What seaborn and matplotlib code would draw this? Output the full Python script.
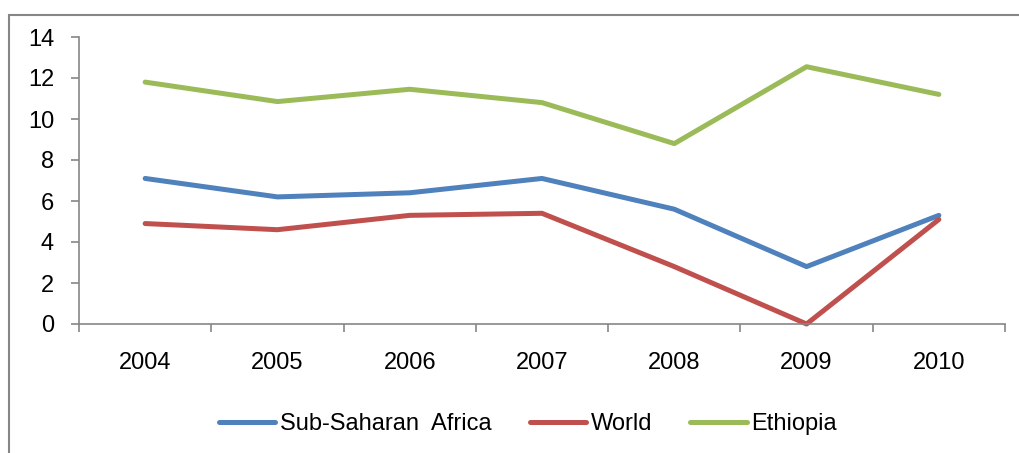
import matplotlib
matplotlib.use("Agg")
import matplotlib.pyplot as plt
import seaborn as sns
import pandas as pd
from matplotlib.patches import Rectangle

years = ["2004", "2005", "2006", "2007", "2008", "2009", "2010"]
ssa = [7.1, 6.2, 6.4, 7.1, 5.6, 2.8, 5.3]
world = [4.9, 4.6, 5.3, 5.4, 2.8, 0.0, 5.1]
ethiopia = [11.8, 10.85, 11.45, 10.8, 8.8, 12.55, 11.2]
series_names = ["Sub-Saharan  Africa", "World", "Ethiopia"]
colors = ["#4F81BD", "#C0504D", "#9BBB59"]

df = pd.DataFrame({
    "year": years * 3,
    "x": list(range(len(years))) * 3,
    "value": ssa + world + ethiopia,
    "series": [series_names[0]] * 7 + [series_names[1]] * 7 + [series_names[2]] * 7,
})

sns.set_theme(style="white")
plt.rcParams['font.family'] = ['Liberation Sans', 'DejaVu Sans']
plt.rcParams['text.color'] = 'black'

fig = plt.figure(figsize=(10.19, 4.53), dpi=100)
ax = fig.add_axes([79/1019, 1-324/453, (1005-79)/1019, (324-37)/453])

sns.lineplot(data=df, x="x", y="value", hue="series", palette=colors,
             hue_order=series_names, linewidth=3.6, ax=ax, legend=True,
             solid_capstyle="round", solid_joinstyle="round")
for ln in ax.get_lines():
    ln.set_clip_on(False)

ax.set_xlim(-0.5, 6.5)
ax.set_ylim(0, 14)
ax.set_yticks(range(0, 15, 2))
ax.set_xticks([i - 0.5 for i in range(8)])
ax.set_xticklabels([])
ax.set_xticks(range(7), minor=True)
ax.set_xticklabels(years, minor=True)
ax.tick_params(axis="x", which="minor", bottom=True, length=0, pad=20, labelsize=17, labelcolor="black")
ax.tick_params(axis="x", which="major", bottom=True, length=6, width=1.2, color="#868686", direction="out")
ax.tick_params(axis="y", left=True, length=6, width=1.2, color="#868686", direction="out", pad=12,
               labelsize=17, labelcolor="black")
ax.set_xlabel("")
ax.set_ylabel("")
for side in ["top", "right"]:
    ax.spines[side].set_visible(False)
for side in ["left", "bottom"]:
    ax.spines[side].set_color("#868686")
    ax.spines[side].set_linewidth(1.2)

handles, labels = ax.get_legend_handles_labels()
leg = ax.legend(handles, labels, loc="center", bbox_to_anchor=(528/1019, 1-424/453),
                bbox_transform=fig.transFigure, ncol=3, frameon=False, fontsize=17,
                handlelength=2.4, handletextpad=0.2, columnspacing=1.6)
for t in leg.get_texts():
    t.set_color("black")

fig.patches.append(Rectangle((9/1019, -0.1), 1.2, 1-15/453 + 0.1, transform=fig.transFigure,
                             fill=False, edgecolor="#868686", linewidth=1.5))

fig.savefig("out.png", dpi=100, facecolor="white")
